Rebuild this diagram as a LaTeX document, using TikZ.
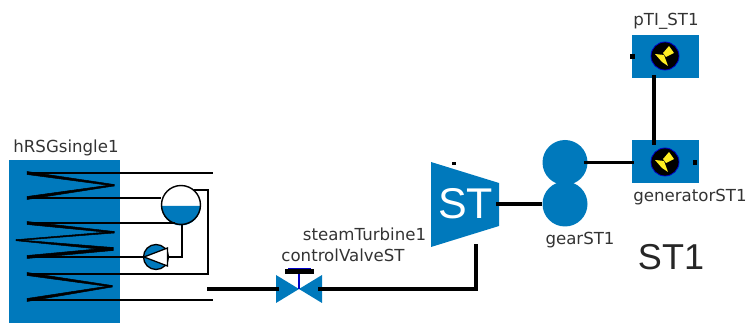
\documentclass[tikz,border=0pt]{standalone}
\usepackage{fontspec}
\setmainfont{DejaVu Sans}
\newfontfamily\arialf{Liberation Sans}
\definecolor{compblue}{HTML}{0079BC}
\definecolor{labelgray}{HTML}{333333}
\definecolor{boltyellow}{HTML}{FFEE22}
\definecolor{stemblue}{HTML}{0000C8}
\tikzset{
  pipe/.style={draw=black,line width=2pt},
  bus/.style={draw=black,line width=3.6pt},
  wedge/.style={fill=black,draw=black,line width=0.5pt},
  lbl/.style={text=labelgray,font=\fontsize{16.6}{18}\selectfont,inner sep=0pt,anchor=center},
  comprect/.style={fill=compblue,minimum width=67pt,minimum height=43pt,inner sep=0pt},
  gearcirc/.style={circle,fill=compblue,minimum size=45pt,inner sep=0pt},
  meter/.style={circle,fill=black,draw=stemblue,line width=0.8pt,minimum size=28pt,inner sep=0pt},
  portdot/.style={fill=black,minimum size=4.5pt,inner sep=0pt},
}
\begin{document}
\begin{tikzpicture}[x=1pt,y=-1pt]
\useasboundingbox (0,0) rectangle (748,323);
% HRSG
\node[fill=compblue,minimum width=111pt,minimum height=163pt,inner sep=0pt,anchor=north west] (hrsg) at (9,160) {};
\node[lbl] (hrsglbl) at (66,148) {hRSGsingle1};
% coordinates
\coordinate (a1) at (27,173); \coordinate (a1e) at (213,173);
\coordinate (a2) at (27,198);
\coordinate (a3) at (27,223);
\coordinate (a4) at (27,257);
\coordinate (a5) at (27,274);
\coordinate (a6) at (27,300); \coordinate (a6e) at (213,300);
% zigzags (tapered)
\fill[wedge] (27,171.5)--(27,174.5)--(114,186)--(114,184.5)--cycle;
\fill[wedge] (27,196.5)--(27,199.5)--(114,186)--(114,184.5)--cycle;
\fill[wedge] (27,221.5)--(27,224.5)--(114,233)--(114,231.5)--cycle;
\fill[wedge] (114,231.5)--(114,233)--(16,240.7)--(16,239.7)--cycle;
\fill[wedge] (16,239.7)--(16,240.7)--(113,250.5)--(113,247.5)--cycle;
\fill[wedge] (113,247.5)--(113,250.5)--(27,258.5)--(27,255.5)--cycle;
\fill[wedge] (27,272.5)--(27,275.5)--(112,287)--(112,285.5)--cycle;
\fill[wedge] (112,285.5)--(112,287)--(27,301.5)--(27,298.5)--cycle;
% drum
\node[circle,fill=white,minimum size=39pt,inner sep=0pt] (drum) at (181,205) {};
\fill[compblue] (161.5,206) arc[start angle=180,end angle=360,radius=19.5pt] -- cycle;
\draw[black,line width=1.4pt] (drum.center) circle[radius=19.5pt];
% pump
\node[circle,fill=compblue,draw=black,line width=1.3pt,minimum size=25pt,inner sep=0pt] (pump) at (156,257) {};
\fill[white,draw=black,line width=1.3pt] (144,257) -- (167.5,248) -- (167.5,266) -- cycle;
% HRSG piping
\draw[pipe] (a1) -- (a1e);
\draw[pipe] (a2) -- (drum.west |- a2);
\draw[pipe] (a3) -- (175,223);
\draw[pipe] (a4) -- (pump.west);
\draw[pipe] (pump.east) -- (182,257) -- (182,224);
\draw[pipe] (194,190) -- (208,190) -- (208,274) -- (a5);
\draw[pipe] (a6) -- (a6e);
% valve
\node[inner sep=0pt,minimum size=0pt] (valve) at (299,289) {};
\fill[compblue] (276,275) -- (299,289) -- (276,303) -- cycle;
\fill[compblue] (322,275) -- (299,289) -- (322,303) -- cycle;
\draw[stemblue,line width=1.6pt] (299,269) -- (valve.center);
\draw[black,line width=4.5pt] (285,271.5) -- (314,271.5);
\draw[stemblue,line width=1pt] (288,268.5) -- (311,268.5);
\node[lbl] (valvelbl) at (343,255) {controlValveST};
% turbine
\fill[compblue] (431,162) -- (499,183) -- (499,226) -- (431,247) -- cycle;
\node[inner sep=0pt,text=white,font=\arialf\fontsize{43}{43}\selectfont] (turbine) at (465.5,204) {ST};
\node[portdot,minimum size=3.5pt] (turbdot) at (454,163.5) {};
\node[lbl] (turblbl) at (364.5,234) {steamTurbine1};
\coordinate (turbout) at (496,204);
\coordinate (turbin) at (476,244);
\coordinate (stub) at (207,289);
\coordinate (vl) at (279,289);
\coordinate (vr) at (318,289);
\draw[bus] (stub) -- (vl);
\draw[bus] (vr) -- (turbin |- vr) -- (turbin);
% gears
\node[gearcirc] (gearb) at (565,204) {};
\node[gearcirc] (geart) at (565,162.5) {};
\node[lbl] (gearlbl) at (580,240) {gearST1};
\draw[bus] (turbout) -- (gearb.west);
% generator, pTI
\node[comprect] (gen) at (665.5,162) {};
\node[comprect] (pti) at (665.5,56.5) {};
\foreach \m/\cy in {m1/56,m2/162}{
  \node[meter] (\m) at (665,\cy) {};
  \begin{scope}[shift={(665,\cy)}]
    \fill[boltyellow] (4,-10)--(9,-3)--(1,1)--(-2,-3)--cycle;
    \fill[boltyellow] (-10,-2)--(-1,-1)--(3,10)--(-3,6)--cycle;
  \end{scope}
}
\node[portdot] (ptidot) at (632.5,56.5) {};
\node[portdot] (gendot) at (695,162.5) {};
\coordinate (ptibot) at (654,75);
\coordinate (gentop) at (654,145);
\coordinate (geartout) at (584,162.5);
\coordinate (genin) at (634,162.5);
\draw[bus] (ptibot) -- (gentop);
\draw[bus] (geartout) -- (genin);
\node[lbl] (ptilbl) at (666,21) {pTI\_ST1};
\node[lbl] (genlbl) at (690,197) {generatorST1};
\node[inner sep=0pt,text=black!85,font=\arialf\fontsize{36}{36}\selectfont] (title) at (671,257) {ST1};
\end{tikzpicture}
\end{document}
